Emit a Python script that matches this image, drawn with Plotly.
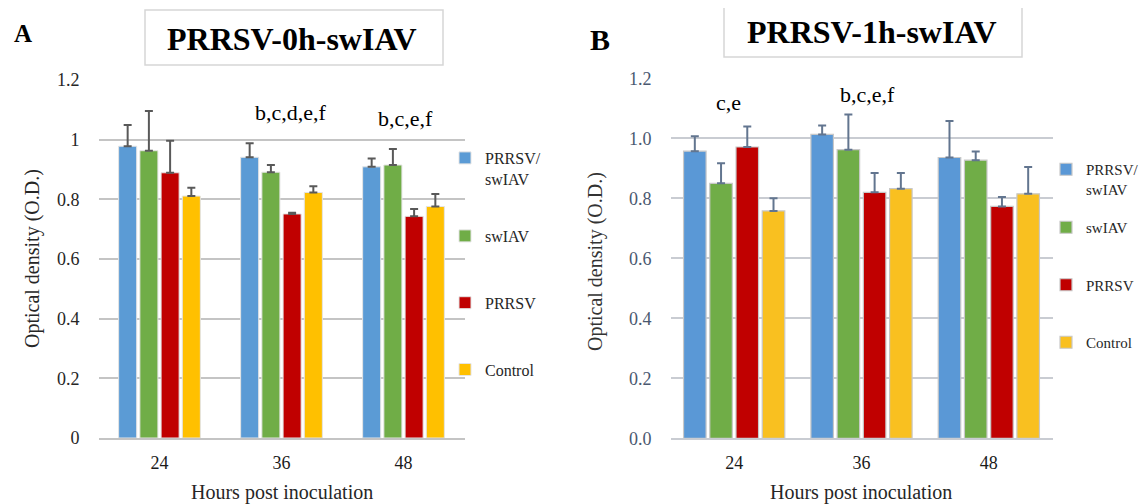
import plotly.graph_objects as go

hours = ["24", "36", "48"]
series = ["PRRSV/<br>swIAV", "swIAV", "PRRSV", "Control"]

# Panel A: PRRSV-0h-swIAV
a_coinf = [0.978, 0.941, 0.909]
a_swiav = [0.963, 0.891, 0.915]
a_prrsv = [0.889, 0.751, 0.743]
a_ctrl = [0.811, 0.823, 0.776]
a_coinf_err = [0.071, 0.047, 0.028]
a_swiav_err = [0.133, 0.024, 0.054]
a_prrsv_err = [0.107, 0.004, 0.025]
a_ctrl_err = [0.028, 0.021, 0.042]

# Panel B: PRRSV-1h-swIAV
b_coinf = [0.957, 1.013, 0.936]
b_swiav = [0.850, 0.962, 0.927]
b_prrsv = [0.971, 0.820, 0.773]
b_ctrl = [0.758, 0.832, 0.815]
b_coinf_err = [0.050, 0.030, 0.122]
b_swiav_err = [0.067, 0.117, 0.029]
b_prrsv_err = [0.068, 0.064, 0.031]
b_ctrl_err = [0.042, 0.052, 0.089]

a_letters = ["b,c,d,e,f", "b,c,e,f"]
b_letters = ["c,e", "b,c,e,f"]
y_ticks = [0, 0.2, 0.4, 0.6, 0.8, 1.0, 1.2]
a_tick_text = ["0", "0.2", "0.4", "0.6", "0.8", "1", "1.2"]
b_tick_text = ["0.0", "0.2", "0.4", "0.6", "0.8", "1.0", "1.2"]

colors_a = ["#5B9BD5", "#70AD47", "#C00000", "#FFC000"]
colors_b = ["#5A98D6", "#70AD47", "#C00000", "#F9C020"]

# page body has an 8px default margin: figure is drawn from (8, 8)
OFF = 8
W, H = 1147 - OFF, 504 - OFF
SERIF = "Liberation Serif"

fig = go.Figure()

a_vals = [a_coinf, a_swiav, a_prrsv, a_ctrl]
a_errs = [a_coinf_err, a_swiav_err, a_prrsv_err, a_ctrl_err]
b_vals = [b_coinf, b_swiav, b_prrsv, b_ctrl]
b_errs = [b_coinf_err, b_swiav_err, b_prrsv_err, b_ctrl_err]

A_WIDTH, A_SLOT = 0.148, 0.174
B_WIDTH, B_SLOT = 0.177, 0.206
a_legends = ["legend", "legend2", "legend2", "legend2"]
b_legends = ["legend3", "legend4", "legend4", "legend4"]

for i, name in enumerate(series):
    fig.add_trace(go.Bar(
        x=hours, y=a_vals[i], name=name, xaxis="x", yaxis="y",
        width=A_WIDTH, offset=-2 * A_SLOT + i * A_SLOT + (A_SLOT - A_WIDTH) / 2,
        marker=dict(color=colors_a[i], line=dict(color="#E4E4E4", width=1)),
        error_y=dict(type="data", array=a_errs[i], arrayminus=[0] * 3, symmetric=False,
                     color="#595959", thickness=2, width=4),
        legend=a_legends[i], legendgroup="a%d" % i,
    ))
for i, name in enumerate(series):
    fig.add_trace(go.Bar(
        x=hours, y=b_vals[i], name=name, xaxis="x2", yaxis="y2",
        width=B_WIDTH, offset=-2 * B_SLOT + i * B_SLOT + (B_SLOT - B_WIDTH) / 2,
        marker=dict(color=colors_b[i], line=dict(color="#C8C8C8", width=1.2)),
        error_y=dict(type="data", array=b_errs[i], arrayminus=[0] * 3, symmetric=False,
                     color="#62758F", thickness=2, width=4),
        legend=b_legends[i], legendgroup="b%d" % i,
    ))

def px_x(p):
    return (p - OFF) / W

def px_y(p):
    return 1 - (p - OFF) / H

axis_common = dict(showgrid=False, zeroline=False, type="category", ticks="",
                   showline=True, linewidth=2,
                   tickfont=dict(family=SERIF, size=18, color="#1a1a1a"))
leg_a = dict(xanchor="left", yanchor="top", valign="top", bgcolor="rgba(0,0,0,0)",
             font=dict(family=SERIF, size=16, color="#262626"))
leg_b = dict(xanchor="left", yanchor="top", valign="top", bgcolor="rgba(0,0,0,0)",
             font=dict(family=SERIF, size=15, color="#262626"))
fig.update_layout(
    xaxis=dict(domain=[px_x(98.5), px_x(464.5)], anchor="y", linecolor="#C4C4C4",
               ticklabelstandoff=7, **axis_common),
    xaxis2=dict(domain=[px_x(670.5), px_x(1052.5)], anchor="y2", linecolor="#C9CCD2",
                ticklabelstandoff=7, **axis_common),
    yaxis=dict(domain=[px_y(438), px_y(80)], range=[0, 1.2], anchor="x",
               tickvals=y_ticks, ticktext=a_tick_text, showgrid=True, gridcolor="#C4C4C4",
               gridwidth=2, zeroline=False, ticklabelstandoff=18,
               tickfont=dict(family=SERIF, size=18, color="#262626")),
    yaxis2=dict(domain=[px_y(438.3), px_y(78.3)], range=[0, 1.2], anchor="x2",
                tickvals=y_ticks, ticktext=b_tick_text, showgrid=True, gridcolor="#C9CCD2",
                gridwidth=2, zeroline=False, ticklabelstandoff=18,
                tickfont=dict(family=SERIF, size=18, color="#4A5870")),
    barmode="group",
    plot_bgcolor="white", paper_bgcolor="white",
    width=W, height=H, margin=dict(l=0, r=0, t=0, b=0, autoexpand=False),
    legend=dict(x=px_x(445), y=px_y(141), **leg_a),
    legend2=dict(x=px_x(445), y=px_y(219), tracegroupgap=43, **leg_a),
    legend3=dict(x=px_x(1046), y=px_y(153), **leg_b),
    legend4=dict(x=px_x(1046), y=px_y(211), tracegroupgap=35, **leg_b),
    showlegend=True,
)

shapes = [
    dict(type="rect", xref="paper", yref="paper", x0=px_x(145), x1=px_x(443), y0=px_y(65), y1=px_y(10),
         line=dict(color="#D6D6D6", width=1.5)),
    dict(type="rect", xref="paper", yref="paper", x0=px_x(724), x1=px_x(1022), y0=px_y(57), y1=px_y(3),
         line=dict(color="#D6D6D6", width=1.5)),
]
fig.update_layout(shapes=shapes)

def note(text, x, y, size, color="black", angle=0, xref="paper", yref="paper"):
    return dict(text=text, x=x, y=y, xref=xref, yref=yref, showarrow=False, textangle=angle,
                xanchor="center", yanchor="middle",
                font=dict(family=SERIF, size=size, color=color))

ann = [
    note("<b>A</b>", px_x(23), px_y(33), 25),
    note("<b>B</b>", px_x(600), px_y(40), 30),
    note("<b>PRRSV-0h-swIAV</b>", px_x(292), px_y(39), 32),
    note("<b>PRRSV-1h-swIAV</b>", px_x(872), px_y(32), 32),
    note("Optical density (O.D.)", px_x(32), px_y(259), 20, "#262626", -90),
    note("Optical density (O.D.)", px_x(595), px_y(262), 20, "#333333", -90),
    note("Hours post inoculation", px_x(282), px_y(492), 20, "#262626"),
    note("Hours post inoculation", px_x(861), px_y(492), 20, "#262626"),
    # significance letters
    note(a_letters[0], 1.078, 1.09, 22, xref="x", yref="y"),
    note(a_letters[1], 2.02, 1.07, 22, xref="x", yref="y"),
    note(b_letters[0], -0.048, 1.119, 22, xref="x2", yref="y2"),
    note(b_letters[1], 1.048, 1.145, 22, xref="x2", yref="y2"),
]
fig.update_layout(annotations=ann)

fig.write_html("out.html")
